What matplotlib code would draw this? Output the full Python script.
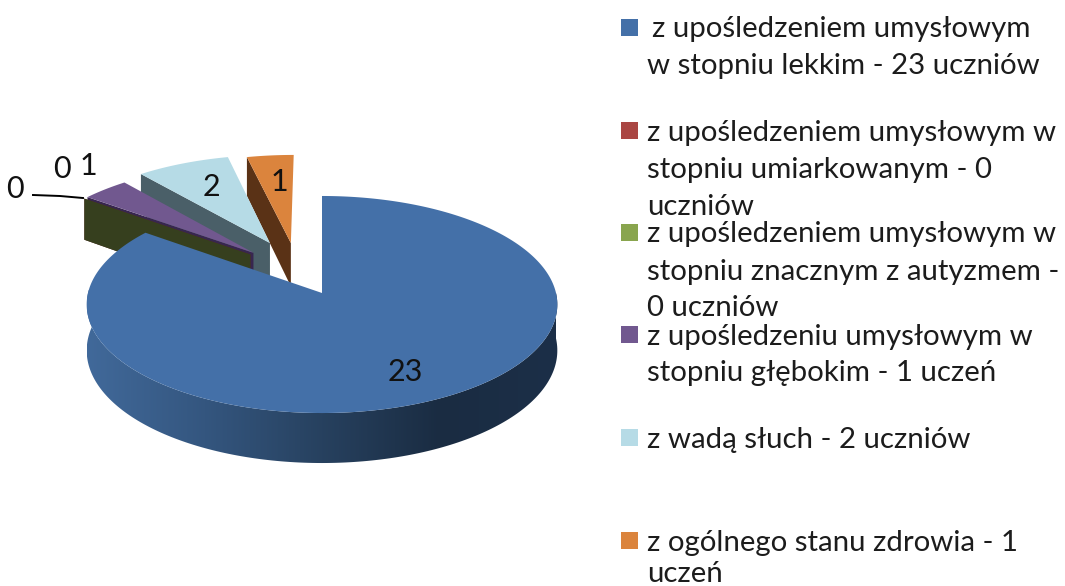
import numpy as np
import matplotlib
matplotlib.use("Agg")
import matplotlib.pyplot as plt

from matplotlib.colors import LinearSegmentedColormap
from matplotlib.patches import Polygon, Rectangle

# Data
values = [23, 0, 0, 1, 2, 1]
legend_lines = [
    ["z upośledzeniem umysłowym", "w stopniu lekkim - 23 uczniów"],
    ["z upośledzeniem umysłowym w", "stopniu umiarkowanym - 0", "uczniów"],
    ["z upośledzeniem umysłowym w", "stopniu znacznym z autyzmem -", "0 uczniów"],
    ["z upośledzeniu umysłowym w", "stopniu głębokim - 1 uczeń"],
    ["z wadą słuch - 2 uczniów"],
    ["z ogólnego stanu zdrowia - 1", "uczeń"],
]

# Style
top_colors = ["#4470a8", "#aa4643", "#89a54e", "#71588f", "#b6dbe6", "#db843d"]
wall_colors = ["#1b2d45", "#5c2523", "#363f1e", "#38264f", "#4a5f68", "#5a3216"]
side_cmap = LinearSegmentedColormap.from_list(
    "side", ["#41699a", "#34567f", "#27415f", "#1a2c42", "#1c2f48"]
)
# Slice offset on the pie plane
offsets = [(0, 0), (-0.318, 0.373), (-0.318, 0.373), (-0.305, 0.39), (-0.234, 0.49), (-0.14, 0.49)]
label_pos = [(405, 372), (15, 189), (62, 169), (88, 166), (211, 187), (279, 182)]
legend_y = [[29, 66], [133, 170, 207], [234, 272, 308], [337, 373], [440], [543, 574]]
legend_box = [19, 122, 224, 326, 429, 532]
text_color = "#1c1c1c"

cx, cy = 322, 293
rx, ry, k = 234, 107.3, 0.106


# Perspective from the pie plane to the picture
def project(u, v):
    w = 1 + k*v
    return cx + rx*u/w, cy - ry*v/w


def drop(v):
    return 45.5 - 4.5*v


def outline(phi1, phi2, off):
    phi = np.radians(np.linspace(phi1, phi2, max(2, int(phi2 - phi1) + 2)))
    u = np.r_[off[0], off[0] + np.sin(phi)]
    v = np.r_[off[1], off[1] + np.cos(phi)]
    return np.column_stack(project(u, v))


# Wall along the cut edge at angle phi
def cut_wall(phi, off):
    p = np.radians(phi)
    u = np.array([off[0], off[0] + np.sin(p)])
    v = np.array([off[1], off[1] + np.cos(p)])
    x, y = project(u, v)
    d = drop(v)
    return np.column_stack([np.r_[x, x[::-1]], np.r_[y, (y + d)[::-1]]])


fig = plt.figure(figsize=(10.65, 5.86), dpi=100)
ax = fig.add_axes([0, 0, 1, 1])
plt.rcParams["font.family"] = "Lato"

angles = np.cumsum([0] + values) / sum(values) * 360

# Exploded slices, back to front
for z, i in enumerate([4, 5, 3, 1, 2]):
    ax.add_patch(Polygon(cut_wall(angles[i], offsets[i]), closed=True, fc=wall_colors[i], ec="none", zorder=2 + z/10))
for i in [4, 5, 3]:
    ax.add_patch(Polygon(outline(angles[i], angles[i + 1], offsets[i]), closed=True, fc=top_colors[i], ec="none", zorder=3))

# Rim of the big slice, shaded along x
phi = np.radians(np.arange(90, angles[1], 1.0))
u, v = np.sin(phi), np.cos(phi)
keep = v < 0.12
u, v = u[keep], v[keep]
x, y = project(u, v)
rim = Polygon(np.column_stack([np.r_[x, x[::-1]], np.r_[y, (y + drop(v))[::-1]]]), closed=True, fc="none", ec="none", zorder=4)
ax.add_patch(rim)
grad = ax.imshow(np.linspace(0, 1, 256)[None, :], cmap=side_cmap, extent=(x.min(), x.max(), 470, 290), aspect="auto", zorder=4)
grad.set_clip_path(rim)
ax.add_patch(Polygon(outline(angles[0], angles[1], offsets[0]), closed=True, fc=top_colors[0], ec="none", zorder=5))

ax.set_xlim(0, 1065)
ax.set_ylim(586, 0)
ax.axis("off")

# Value labels
for val, (lx, ly) in zip(values, label_pos):
    ax.text(lx, ly, str(val), fontsize=22, color="#111111", ha="center", va="center", zorder=6)
ax.plot([33, 60, 83], [195, 196, 198], color="black", lw=1.4, zorder=6)

# Legend
for lines, ys, box, color in zip(legend_lines, legend_y, legend_box, top_colors):
    ax.add_patch(Rectangle((621, box), 17, 17, fc=color, ec="none"))
    for line, ly in zip(lines, ys):
        lx = 652 if line == legend_lines[0][0] else 647
        ax.text(lx, ly, line, fontsize=21.2, color=text_color, ha="left", va="center")

fig.savefig("out.png", dpi=100)
